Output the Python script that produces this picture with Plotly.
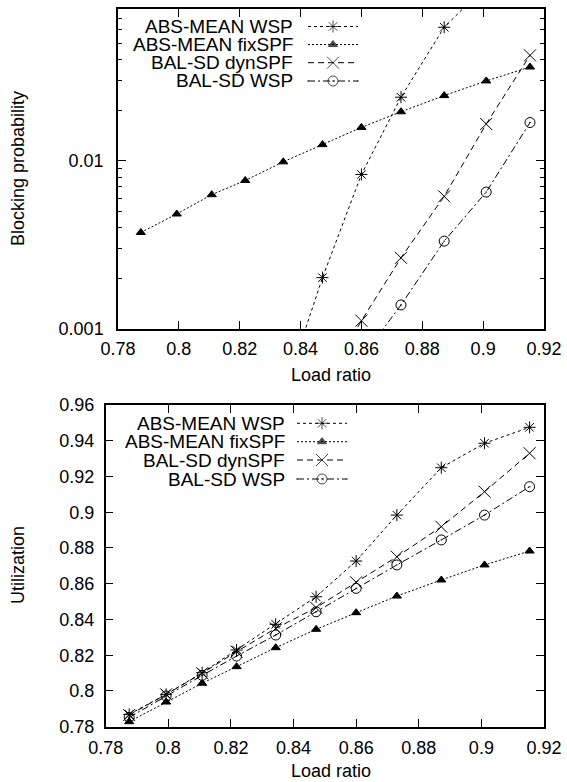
import plotly.graph_objects as go

# ---------------- data ----------------
load_ratio = [0.7875, 0.7993, 0.8108, 0.8218, 0.8343, 0.8472, 0.8600, 0.8730, 0.8872, 0.9010, 0.9154]

series_names = ["ABS-MEAN WSP", "ABS-MEAN fixSPF", "BAL-SD dynSPF", "BAL-SD WSP"]

block_abs_wsp = [None, None, None, None, 0.0004, 0.00202, 0.0083, 0.0239, 0.0623, 0.11, 0.18]
block_abs_fix = [0.00375, 0.00483, 0.00629, 0.00764, 0.00986, 0.01249, 0.01581, 0.01958, 0.02444, 0.02987, 0.03614]
block_bal_dyn = [None, None, None, None, None, 0.00045, 0.00112, 0.00265, 0.00615, 0.01656, 0.0424]
block_bal_wsp = [None, None, None, None, None, None, 0.00067, 0.00139, 0.00333, 0.00652, 0.0169]

util_abs_wsp = [0.7869, 0.7981, 0.8102, 0.8229, 0.8373, 0.8527, 0.8727, 0.8984, 0.9249, 0.9386, 0.9475]
util_abs_fix = [0.7828, 0.7938, 0.8043, 0.8136, 0.8242, 0.8345, 0.8438, 0.8531, 0.8621, 0.8705, 0.8783]
util_bal_dyn = [0.7865, 0.7981, 0.8099, 0.8220, 0.8350, 0.8466, 0.8608, 0.8751, 0.8919, 0.9115, 0.9330]
util_bal_wsp = [0.7852, 0.7972, 0.8087, 0.8195, 0.8313, 0.8443, 0.8574, 0.8705, 0.8845, 0.8984, 0.9143]

x_ticks = [0.78, 0.80, 0.82, 0.84, 0.86, 0.88, 0.90, 0.92]
x_ticktext = ["0.78", "0.8", "0.82", "0.84", "0.86", "0.88", "0.9", "0.92"]
block_ticks = [0.001, 0.01]
block_ticktext = ["0.001", "0.01"]
block_minor = [0.002, 0.003, 0.004, 0.005, 0.006, 0.007, 0.008, 0.009,
               0.02, 0.03, 0.04, 0.05, 0.06, 0.07, 0.08]
util_ticks = [0.78, 0.80, 0.82, 0.84, 0.86, 0.88, 0.90, 0.92, 0.94, 0.96]
util_ticktext = ["0.78", "0.8", "0.82", "0.84", "0.86", "0.88", "0.9", "0.92", "0.94", "0.96"]

# ---------------- styles ----------------
W, H = 567, 782
FONT = "Liberation Sans, Arial, sans-serif"
FS = 18
FS_LEG = 19
styles = [
    dict(dash="3px,3px", symbol="asterisk-open", size=10),
    dict(dash="2px,2px", symbol="triangle-up", size=8),
    dict(dash="6px,4px", symbol="x-thin-open", size=12),
    dict(dash="7px,3px,2px,3px", symbol="circle-open-dot", size=10),
]

fig = go.Figure()

top_series = [block_abs_wsp, block_abs_fix, block_bal_dyn, block_bal_wsp]
bot_series = [util_abs_wsp, util_abs_fix, util_bal_dyn, util_bal_wsp]

for name, ys, st in zip(series_names, top_series, styles):
    fig.add_trace(go.Scatter(
        x=load_ratio, y=ys, mode="lines+markers", name=name, xaxis="x", yaxis="y",
        line=dict(color="black", width=1, dash=st["dash"]),
        marker=dict(symbol=st["symbol"], size=st["size"], color="black",
                    line=dict(color="black", width=1)),
        showlegend=False, cliponaxis=True))

for name, ys, st in zip(series_names, bot_series, styles):
    fig.add_trace(go.Scatter(
        x=load_ratio, y=ys, mode="lines+markers", name=name, xaxis="x2", yaxis="y2",
        line=dict(color="black", width=1, dash=st["dash"]),
        marker=dict(symbol=st["symbol"], size=st["size"], color="black",
                    line=dict(color="black", width=1)),
        showlegend=False, cliponaxis=True))

# ---------------- custom legends (text left, sample right) ----------------
def px_x(p):
    return p / W

def px_y(p):
    return 1 - p / H

legend_blocks = [
    dict(text_right=295, x0=308, x1=358, rows=[26.5, 44.5, 62.7, 81]),
    dict(text_right=287, x0=297, x1=347, rows=[423.3, 441.7, 460, 479]),
]
annotations = []
for lb in legend_blocks:
    for name, st, ry in zip(series_names, styles, lb["rows"]):
        annotations.append(dict(
            x=px_x(lb["text_right"]), y=px_y(ry), xref="paper", yref="paper",
            text=name, showarrow=False, xanchor="right", yanchor="middle",
            font=dict(family=FONT, size=FS_LEG, color="black")))
        xm = (lb["x0"] + lb["x1"]) / 2
        fig.add_trace(go.Scatter(
            x=[px_x(lb["x0"]), px_x(xm), px_x(lb["x1"])],
            y=[px_y(ry)] * 3, mode="lines+markers", xaxis="x3", yaxis="y3",
            line=dict(color="black", width=1, dash=st["dash"]),
            marker=dict(symbol=st["symbol"], size=[0, st["size"], 0], color="black",
                        line=dict(color="black", width=1)),
            showlegend=False, hoverinfo="skip"))

# axis titles
title_font = dict(family=FONT, size=FS, color="black")
annotations += [
    dict(x=px_x(331), y=px_y(375), xref="paper", yref="paper", text="Load ratio",
         xanchor="center", yanchor="middle", showarrow=False, font=title_font),
    dict(x=px_x(331), y=px_y(771), xref="paper", yref="paper", text="Load ratio",
         xanchor="center", yanchor="middle", showarrow=False, font=title_font),
    dict(x=px_x(18), y=px_y(169), xref="paper", yref="paper", text="Blocking probability",
         xanchor="center", yanchor="middle", textangle=-90, showarrow=False, font=title_font),
    dict(x=px_x(18), y=px_y(565), xref="paper", yref="paper", text="Utilization",
         xanchor="center", yanchor="middle", textangle=-90, showarrow=False, font=title_font),
]

axis_common = dict(showline=True, linecolor="black", linewidth=1.5, mirror="allticks",
                   ticks="inside", ticklen=8, tickwidth=1, tickcolor="black",
                   showgrid=False, zeroline=False, automargin=False,
                   tickfont=dict(family=FONT, size=FS, color="black"))

fig.update_layout(
    width=W, height=H, margin=dict(l=0, r=0, t=0, b=0, pad=0),
    paper_bgcolor="white", plot_bgcolor="rgba(0,0,0,0)",
    showlegend=False,
    xaxis=dict(domain=[px_x(118), px_x(544)], range=[0.78, 0.92], anchor="y",
               tickmode="array", tickvals=x_ticks, ticktext=x_ticktext,
               ticklabelstandoff=3, **axis_common),
    yaxis=dict(domain=[px_y(329), px_y(9)], type="log", range=[-3, -1.097], anchor="x",
               tickmode="array", tickvals=block_ticks, ticktext=block_ticktext,
               minor=dict(tickmode="array", tickvals=block_minor, ticks="inside",
                          ticklen=4, tickcolor="black", showgrid=False),
               ticklabelstandoff=9, **axis_common),
    xaxis2=dict(domain=[px_x(105.7), px_x(544)], range=[0.78, 0.92], anchor="y2",
                tickmode="array", tickvals=x_ticks, ticktext=x_ticktext,
                ticklabelstandoff=4, **axis_common),
    yaxis2=dict(domain=[px_y(726.7), px_y(405)], range=[0.78, 0.96], anchor="x2",
                tickmode="array", tickvals=util_ticks, ticktext=util_ticktext,
                ticklabelstandoff=6, **axis_common),
    xaxis3=dict(domain=[0, 1], range=[0, 1], visible=False, anchor="y3",
                fixedrange=True, automargin=False),
    yaxis3=dict(domain=[0, 1], range=[0, 1], visible=False, anchor="x3",
                fixedrange=True, automargin=False),
    annotations=annotations,
)

fig.write_html("out.html")
